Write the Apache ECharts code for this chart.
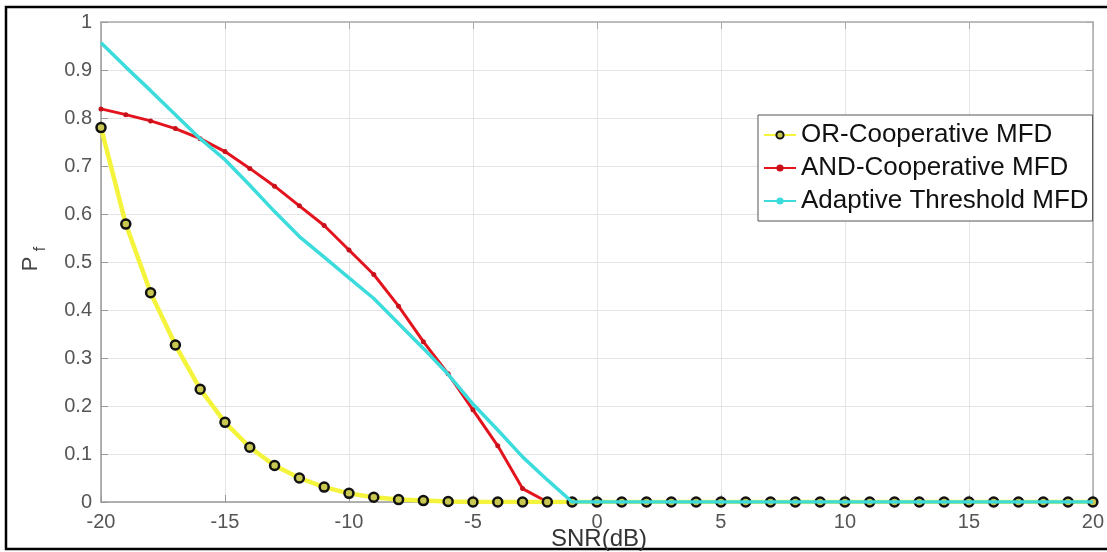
<!DOCTYPE html>
<html>
<head>
<meta charset="utf-8">
<title>Pf vs SNR</title>
<script src="https://cdn.jsdelivr.net/npm/echarts@6/dist/echarts.min.js"></script>
<style>
  html, body { margin: 0; padding: 0; background: #fff; }
  #chart { width: 1107px; height: 552px; }
</style>
</head>
<body>
<div id="chart"></div>
<script>
// SNR (dB) sample points
const snr = [-20, -19, -18, -17, -16, -15, -14, -13, -12, -11, -10, -9, -8, -7, -6, -5, -4, -3, -2, -1,
  0, 1, 2, 3, 4, 5, 6, 7, 8, 9, 10, 11, 12, 13, 14, 15, 16, 17, 18, 19, 20];

// OR-Cooperative MFD
const orPf = [0.78, 0.579, 0.436, 0.327, 0.235, 0.166, 0.114, 0.076, 0.05, 0.031, 0.018, 0.01, 0.005, 0.003, 0.001, 0, 0, 0, 0, 0,
  0, 0, 0, 0, 0, 0, 0, 0, 0, 0, 0, 0, 0, 0, 0, 0, 0, 0, 0, 0, 0];

// AND-Cooperative MFD
const andPf = [0.819, 0.807, 0.794, 0.778, 0.757, 0.73, 0.695, 0.658, 0.617, 0.576, 0.525, 0.474, 0.408, 0.334, 0.267, 0.192, 0.117, 0.028, 0, 0,
  0, 0, 0, 0, 0, 0, 0, 0, 0, 0, 0, 0, 0, 0, 0, 0, 0, 0, 0, 0, 0];

// Adaptive Threshold MFD
const adaptPf = [0.957, 0.906, 0.857, 0.807, 0.757, 0.713, 0.66, 0.605, 0.553, 0.51, 0.467, 0.424, 0.372, 0.32, 0.266, 0.204, 0.15, 0.094, 0.046, 0,
  0, 0, 0, 0, 0, 0, 0, 0, 0, 0, 0, 0, 0, 0, 0, 0, 0, 0, 0, 0, 0];

const xTicks = [-20, -15, -10, -5, 0, 5, 10, 15, 20];
const yTicks = [0, 0.1, 0.2, 0.3, 0.4, 0.5, 0.6, 0.7, 0.8, 0.9, 1];

const pairs = ys => snr.map((x, i) => [x, ys[i]]);

const font = 'Liberation Sans, Arial, sans-serif';
const tickLabel = { color: '#555', fontSize: 20, fontFamily: font };

let myChart = echarts.init(document.getElementById('chart'));

let option = {
  animation: false,
  backgroundColor: '#fff',
  grid: { left: 101, right: 10, top: 22, bottom: 50, show: false },
  xAxis: [{
    type: 'value', min: xTicks[0], max: xTicks[xTicks.length - 1], interval: 5,
    axisLine: { show: true, onZero: false, lineStyle: { color: '#999', width: 1.5 } },
    axisTick: { show: true, inside: true, length: 7, lineStyle: { color: '#999' } },
    axisLabel: Object.assign({ margin: 10 }, tickLabel),
    splitLine: { show: true, lineStyle: { color: '#e4e4e4', width: 1 } }
  }, {
    type: 'value', position: 'top', min: xTicks[0], max: xTicks[xTicks.length - 1], interval: 5,
    axisLine: { show: true, onZero: false, lineStyle: { color: '#aaa', width: 1.5 } },
    axisTick: { show: true, inside: true, length: 7, lineStyle: { color: '#aaa' } },
    axisLabel: { show: false }, splitLine: { show: false }
  }],
  yAxis: [{
    type: 'value', min: yTicks[0], max: yTicks[yTicks.length - 1], interval: 0.1,
    axisLine: { show: true, onZero: false, lineStyle: { color: '#999', width: 1.5 } },
    axisTick: { show: true, inside: true, length: 7, lineStyle: { color: '#999' } },
    axisLabel: Object.assign({
      margin: 9,
      formatter: v => String(parseFloat(v.toFixed(1)))
    }, tickLabel),
    splitLine: { show: true, lineStyle: { color: '#e4e4e4', width: 1 } }
  }, {
    type: 'value', position: 'right', min: yTicks[0], max: yTicks[yTicks.length - 1], interval: 0.1,
    axisLine: { show: true, onZero: false, lineStyle: { color: '#aaa', width: 1.5 } },
    axisTick: { show: true, inside: true, length: 7, lineStyle: { color: '#aaa' } },
    axisLabel: { show: false }, splitLine: { show: false }
  }],
  legend: {
    orient: 'vertical',
    left: 758, top: 115,
    itemWidth: 32, itemHeight: 9, itemGap: 7,
    padding: [7, 4, 7, 5],
    backgroundColor: '#fff',
    borderColor: '#555', borderWidth: 1,
    textStyle: { fontSize: 26, color: '#111', fontFamily: font },
    data: ['OR-Cooperative MFD', 'AND-Cooperative MFD', 'Adaptive Threshold MFD']
  },
  series: [{
    name: 'OR-Cooperative MFD',
    type: 'line', z: 3,
    data: pairs(orPf),
    symbol: 'circle', symbolSize: 9,
    lineStyle: { color: '#f4f43c', width: 4.5 },
    itemStyle: { color: '#c8c850', borderColor: '#111', borderWidth: 2.5 }
  }, {
    name: 'AND-Cooperative MFD',
    type: 'line', z: 2,
    data: pairs(andPf),
    symbol: 'circle', symbolSize: 5,
    lineStyle: { color: '#e3141e', width: 3 },
    itemStyle: { color: '#c8101a', borderWidth: 0 }
  }, {
    name: 'Adaptive Threshold MFD',
    type: 'line', z: 4,
    data: pairs(adaptPf),
    symbol: 'none',
    lineStyle: { color: '#3ddcdc', width: 3.5 },
    itemStyle: { color: '#3ddcdc' }
  }],
  graphic: [
    // outer frame
    { type: 'rect', shape: { x: 6, y: 7, width: 1110, height: 542 },
      style: { fill: null, stroke: '#000', lineWidth: 2.5 }, silent: true },
    // y axis name P_f
    { type: 'text', x: 31, y: 264, rotation: Math.PI / 2,
      style: { text: 'P', fontSize: 22, fill: '#444', fontFamily: font, align: 'center', verticalAlign: 'middle' } },
    { type: 'text', x: 41, y: 249, rotation: Math.PI / 2,
      style: { text: 'f', fontSize: 16, fill: '#444', fontFamily: font, align: 'center', verticalAlign: 'middle' } },
    // x axis name
    { type: 'text', x: 599, y: 539,
      style: { text: 'SNR(dB)', fontSize: 24, fill: '#333', fontFamily: font, align: 'center', verticalAlign: 'middle' } }
  ]
};

myChart.setOption(option);
</script>
</body>
</html>
